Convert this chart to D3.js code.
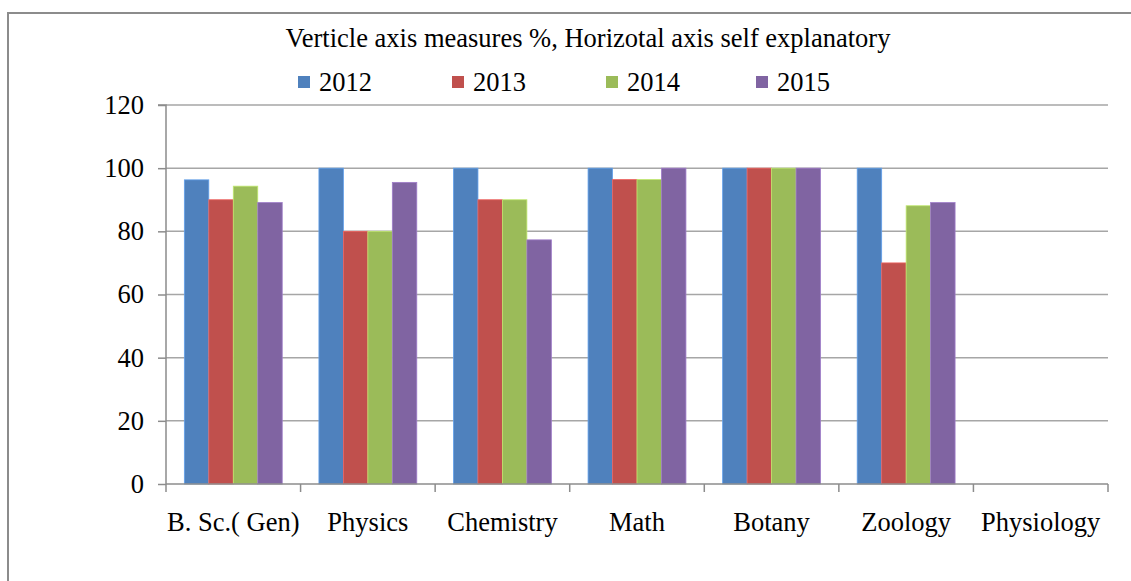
<!DOCTYPE html>
<html>
<head>
<meta charset="utf-8">
<script src="https://cdn.jsdelivr.net/npm/d3@7"></script>
<style>
  body { margin: 0; background: #fff; }
  svg { display: block; }
  svg text { font-family: "Liberation Serif", "Times New Roman", serif; fill: #000; }
</style>
</head>
<body>
<svg id="chart"></svg>
<script>
// chart data
const subjects = ['B. Sc.( Gen)', 'Physics', 'Chemistry', 'Math', 'Botany', 'Zoology', 'Physiology'];
const years = ['2012', '2013', '2014', '2015'];
const values2012 = [96.3, 100, 100, 100, 100, 100, 0];
const values2013 = [90, 80, 90, 96.4, 100, 70, 0];
const values2014 = [94.3, 80, 90, 96.4, 100, 88.1, 0];
const values2015 = [89.1, 95.5, 77.3, 100, 100, 89.1, 0];
const yTicks = [0, 20, 40, 60, 80, 100, 120];

const colors = ['#4F81BD', '#C0504D', '#9BBB59', '#8064A2'];
const series = [values2012, values2013, values2014, values2015];

const width = 1131, height = 581;
const plotL = 166, plotR = 1108, plotT = 105, plotB = 484;
const fs = 26.5;

const svg = d3.select('#chart').attr('width', width).attr('height', height);

// outer frame (runs off the right and bottom edges like the source)
svg.append('rect')
  .attr('x', 8).attr('y', 13)
  .attr('width', 1150).attr('height', 620)
  .attr('fill', 'none').attr('stroke', '#8c8c8c').attr('stroke-width', 2);

const x = d3.scaleBand().domain(subjects).range([plotL, plotR]).paddingInner(0).paddingOuter(0);
const y = d3.scaleLinear().domain([0, 120]).range([plotB, plotT]);

// inner band for the 4 bars, excel style 150% gap
const bw = x.bandwidth();
const barW = bw / 5.5;
const xs = d3.scaleBand().domain(years).range([barW * 0.75, bw - barW * 0.75]);

// gridlines
svg.append('g')
  .selectAll('line')
  .data(yTicks.filter(d => d > 0))
  .join('line')
  .attr('x1', plotL).attr('x2', plotR)
  .attr('y1', d => y(d)).attr('y2', d => y(d))
  .attr('stroke', '#a6a6a6').attr('stroke-width', 1.5);

// bars
const groups = svg.append('g').selectAll('g')
  .data(subjects)
  .join('g')
  .attr('transform', d => `translate(${x(d)},0)`);

groups.selectAll('rect')
  .data((d, i) => years.map((yr, j) => ({ yr, v: series[j][i], c: colors[j] })))
  .join('rect')
  .attr('x', d => xs(d.yr))
  .attr('width', xs.bandwidth())
  .attr('y', d => y(d.v))
  .attr('height', d => plotB - y(d.v))
  .attr('fill', d => d.c)
  .attr('stroke', d => d3.color(d.c).brighter(0.6))
  .attr('stroke-width', d => d.v > 0 ? 0.8 : 0);

// y axis
const yAxis = svg.append('g')
  .attr('transform', `translate(${plotL},0)`)
  .call(d3.axisLeft(y).tickValues(yTicks).tickSize(8).tickPadding(14));
yAxis.attr('font-family', null);
yAxis.select('.domain').attr('stroke', '#8c8c8c').attr('stroke-width', 1.5).attr('d', `M-8,${plotT}H0V${plotB}`);
yAxis.selectAll('.tick line').attr('stroke', '#8c8c8c').attr('stroke-width', 1.5);
yAxis.selectAll('.tick text').attr('font-size', fs);

// x axis
const xAxis = svg.append('g')
  .attr('transform', `translate(0,${plotB})`)
  .call(d3.axisBottom(x).tickSize(0).tickPadding(28));
xAxis.attr('font-family', null);
xAxis.select('.domain').attr('stroke', '#8c8c8c').attr('stroke-width', 1.5).attr('d', `M${plotL},0H${plotR}`);
xAxis.selectAll('.tick text').attr('font-size', fs);
svg.append('g').selectAll('line')
  .data(subjects.map(s => x(s)).concat([plotR]))
  .join('line')
  .attr('x1', d => d).attr('x2', d => d)
  .attr('y1', plotB).attr('y2', plotB + 8)
  .attr('stroke', '#8c8c8c').attr('stroke-width', 1.5);

// title
svg.append('text')
  .attr('x', 588).attr('y', 47)
  .attr('text-anchor', 'middle')
  .attr('font-size', fs)
  .text('Verticle axis measures %, Horizotal axis self explanatory');

// legend
const legendX = [298, 452, 606, 756];
const leg = svg.append('g').selectAll('g')
  .data(years)
  .join('g')
  .attr('transform', (d, i) => `translate(${legendX[i]},76)`);
leg.append('rect').attr('width', 12).attr('height', 12).attr('fill', (d, i) => colors[i]);
leg.append('text').attr('x', 21).attr('y', 15).attr('font-size', fs).text(d => d);
</script>
</body>
</html>
